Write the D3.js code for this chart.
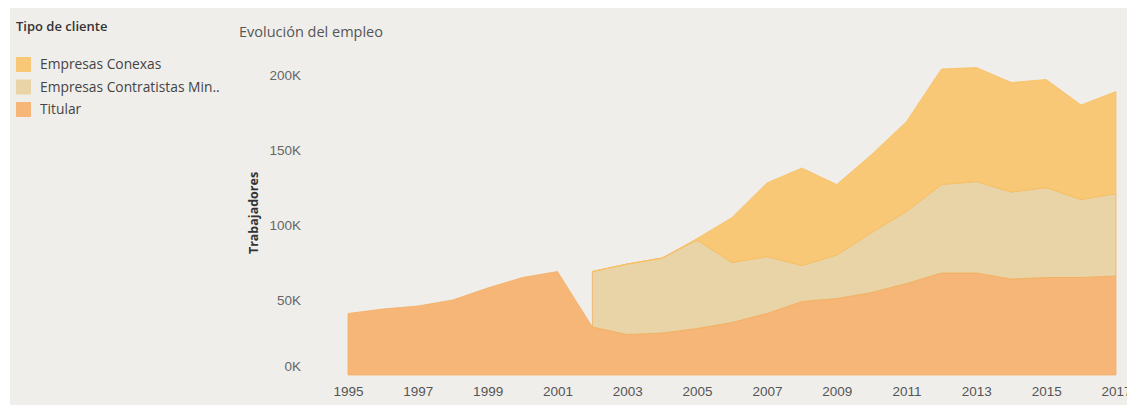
<!DOCTYPE html>
<html>
<head>
<meta charset="utf-8">
<script src="https://cdn.jsdelivr.net/npm/d3@7"></script>
<style>
  body { margin: 0; background: #fff; }
  svg { display: block; font-family: "Open Sans", sans-serif; }
</style>
</head>
<body>
<div id="chart"></div>
<script>
const years = d3.range(1995, 2018);
const titular = [41000, 44000, 46000, 50000, 58000, 65000, 69000, 32000, 27000, 28000, 31000, 35000,
                 41000, 49000, 51000, 55000, 61000, 68000, 68000, 64000, 65000, 65000, 66000];
const contratistas = [null, null, null, null, null, null, null, 37000, 47000, 50000, 59000, 40000,
                      38000, 24000, 29000, 40000, 48000, 59000, 61000, 58000, 60000, 52000, 55000];
const conexas = [null, null, null, null, null, null, null, 0, 0, 0, 1000, 30000,
                 49000, 65000, 47000, 52000, 60000, 77000, 76000, 73000, 72000, 63000, 68000];
const yTicks = [0, 50000, 100000, 150000, 200000];
const xTicks = [1995, 1997, 1999, 2001, 2003, 2005, 2007, 2009, 2011, 2013, 2015, 2017];

const series = [
  { key: "titular", name: "Titular", fill: "#f5b677", stroke: "#f3ae66" },
  { key: "contratistas", name: "Empresas Contratistas Min..", fill: "#e8d4a7", stroke: "#f2ad5c" },
  { key: "conexas", name: "Empresas Conexas", fill: "#f8c877", stroke: "#f7c060" }
];
const legendOrder = ["conexas", "contratistas", "titular"];

const rows = years.map((y, i) => ({
  year: y,
  titular: titular[i],
  contratistas: contratistas[i],
  conexas: conexas[i]
}));

const width = 1127;
const height = 405;

const svg = d3.select('#chart')
  .append('svg')
  .attr('width', width)
  .attr('height', height);

// panel background
svg.append('rect')
  .attr('x', 10).attr('y', 8)
  .attr('width', width - 10).attr('height', height - 8)
  .attr('fill', '#f0eeeb');

const x = d3.scaleLinear().domain([1995, 2017]).range([348, 1116]);
const y = d3.scaleLinear().domain([0, 200000]).range([375, 75]);

const stack = d3.stack().keys(series.map(s => s.key));
const stacked = stack(rows);

stacked.forEach((layer, li) => {
  const s = series[li];
  const area = d3.area()
    .defined(d => d.data[s.key] != null)
    .x(d => x(d.data.year))
    .y0(d => y(d[0]))
    .y1(d => y(d[1]));
  svg.append('path')
    .datum(layer)
    .attr('d', area)
    .attr('fill', s.fill)
    .attr('stroke', s.stroke)
    .attr('stroke-width', 0.8)
    .attr('stroke-linejoin', 'round');
});

// y axis
const yAxis = svg.append('g')
  .attr('transform', 'translate(301,0)')
  .call(d3.axisLeft(y).tickValues(yTicks).tickFormat(d => (d / 1000) + 'K').tickSize(0).tickPadding(0));
yAxis.select('.domain').remove();
yAxis.selectAll('text')
  .attr('fill', '#666')
  .style('font-size', '13.5px')
  .attr('dy', (d) => d === 0 ? '-0.3em' : '0.32em');

svg.append('text')
  .attr('transform', 'translate(258,213) rotate(-90)')
  .attr('text-anchor', 'middle')
  .attr('fill', '#333')
  .style('font-size', '12.5px')
  .style('font-weight', 'bold')
  .text('Trabajadores');

// x axis
const xAxis = svg.append('g')
  .attr('transform', 'translate(0,384)')
  .call(d3.axisBottom(x).tickValues(xTicks).tickFormat(d3.format('d')).tickSize(0).tickPadding(0));
xAxis.select('.domain').remove();
xAxis.selectAll('text')
  .attr('fill', '#555')
  .attr('dy', '0.9em')
  .style('font-size', '13.5px');

// title
svg.append('text')
  .attr('x', 239).attr('y', 37)
  .attr('fill', '#555')
  .style('font-size', '14.5px')
  .text('Evolución del empleo');

// legend
svg.append('text')
  .attr('x', 16).attr('y', 31)
  .attr('fill', '#333')
  .style('font-size', '13px')
  .style('font-weight', '600')
  .text('Tipo de cliente');

const legend = svg.append('g');
legendOrder.forEach((k, i) => {
  const s = series.find(d => d.key === k);
  const g = legend.append('g').attr('transform', `translate(16, ${57 + i * 22.5})`);
  g.append('rect')
    .attr('width', 15).attr('height', 15)
    .attr('fill', s.fill);
  g.append('text')
    .attr('x', 24).attr('y', 12)
    .attr('fill', '#444')
    .style('font-size', '13.8px')
    .text(s.name);
});
</script>
</body>
</html>
